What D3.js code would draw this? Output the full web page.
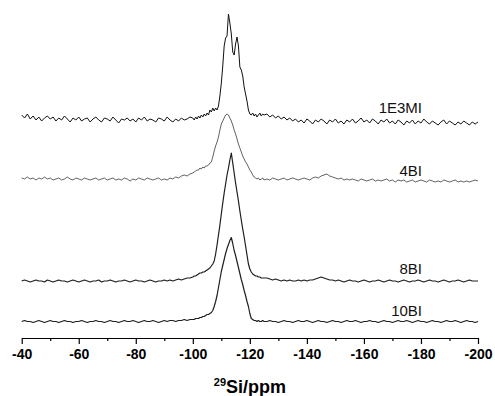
<!DOCTYPE html>
<html>
<head>
<meta charset="utf-8">
<script src="https://cdn.jsdelivr.net/npm/d3@7"></script>
<style>
  html, body { margin: 0; padding: 0; background: #fff; }
  svg { display: block; }
</style>
</head>
<body>
<svg id="chart" width="495" height="396"></svg>
<script>
// chemical-shift grid (ppm): 1 ppm steps, 0.5 ppm around the Q4 resonance
const ppm = [].concat(
  d3.range(-40, -100.01, -1),
  d3.range(-100.5, -125.01, -0.5),
  d3.range(-126, -200.01, -1)
);

const seriesNames = ["1E3MI", "4BI", "8BI", "10BI"];
const seriesOffsets = [212, 151, 49, 8.5];

const s1E3MI = [
  3, 0, 4, -1, 2, -2, 1, -3, 0, 2,
  -1, 1, -3, 0, -2, 2, -1, -4, 0, -2,
  1, -3, -1, 0, -4, -1, 1, -2, -4, 0,
  -1, -3, 1, -2, -5, -1, -2, 0, -3, -1,
  -4, 0, -2, 1, -3, -1, -2, -4, 0, -1,
  -3, 1, -2, -4, -1, -3, 0, -2, -1, 1,
  0,
  -2, 1, -1, 2, 0, 3, 1, 4, 2, 5,
  3, 8, 6, 10, 7, 10, 8, 12, 22, 35,
  52, 72, 80, 82, 104, 95, 84, 66, 63, 74,
  81, 72, 51, 48, 42, 31, 24, 17, 8, 4,
  3, 5, 2, 4, 1, 3, 5, 2, 4, 3,
  4, 1, 3, 0, 2, -1, 1, -2, 0, -3,
  -1, -4, -2, -5, -1, -3, -6, -2, -4, -1,
  -3, -6, -2, -4, -1, -5, -3, -6, -2, -4,
  -1, -5, -3, 0, -4, -2, -5, -1, -3, -6,
  -2, -4, -1, -5, -3, -6, -2, -4, -7, -3,
  -5, -2, -6, -3, -5, -1, -4, -6, -3, -5,
  -7, -4, -2, -6, -3, -5, -7, -4, -6, -3,
  -5, -7, -4, -6, -4
];

const s4BI = [
  1, 0, 2, 0, 1, -1, 1, 0, 2, 0,
  1, -1, 0, 1, -1, 0, 2, 0, -1, 1,
  0, -1, 1, 0, -1, 0, 1, -1, 0, 1,
  -1, 0, 1, -1, 0, -1, 1, 0, -2, 0,
  -1, 1, 0, -1, 1, 0, -1, 0, 1, -1,
  0, -1, 1, 0, 2, 1, 3, 4, 3, 5,
  6,
  7, 8, 9, 9, 11, 10, 12, 11, 13, 13,
  14, 16, 17, 22, 28, 33, 37, 42, 49, 55,
  58, 61, 64, 65, 64, 61, 58, 54, 49, 45,
  40, 35, 31, 27, 23, 20, 17, 15, 12, 9,
  7, 4, 2, 1, 0, 1, -1, 0, 1, -1,
  0, -1, 1, 0, -1, 0, 1, -1, 0, 1,
  0, -1, 0, 1, 0, -1, 1, 2, 1, 3,
  4, 5, 3, 2, 1, 0, 1, -1, 0, -1,
  0, -1, -2, 0, -1, -2, -1, 0, -2, -1,
  -2, -1, 0, -2, -1, -3, -1, -2, -1, -3,
  -2, -1, -3, -2, -1, -2, -3, -1, -2, -3,
  -2, -3, -1, -2, -3, -2, -1, -3, -2, -3,
  -2, -3, -2, -1, -2
];

const s8BI = [
  0, 1, 0, -1, 0, 1, 0, 0, -1, 1,
  0, -1, 0, 1, 0, 0, -1, 0, 1, 0,
  -1, 0, 1, 0, -1, 0, 0, 1, -1, 0,
  0, 1, 0, -1, 0, 0, 1, 0, -1, 0,
  1, 0, 0, -1, 0, 1, 0, -1, 0, 0,
  1, 0, 1, 0, 1, 2, 1, 2, 3, 3,
  4,
  5, 5, 6, 7, 8, 8, 9, 9, 10, 11,
  12, 13, 15, 17, 20, 27, 36, 46, 56, 67,
  78, 88, 97, 106, 113, 121, 128, 118, 108, 98,
  89, 80, 70, 61, 52, 44, 35, 26, 17, 12,
  9, 7, 6, 5, 5, 4, 4, 3, 3, 3,
  3, 2, 1, 2, 1, 0, 1, 0, 1, 0,
  0, 1, 0, 1, 0, 1, 1, 2, 3, 4,
  3, 2, 1, 1, 0, 1, 0, -1, 0, 1,
  0, 0, -1, 0, 1, 0, -1, 0, 0, 1,
  0, -1, 0, 1, 0, 0, -1, 0, 1, 0,
  -1, 0, 0, 1, 0, -1, 0, 1, 0, 0,
  -1, 0, 1, 0, -1, 0, 0, 1, 0, -1,
  0, 1, 0, 0, 0
];

const s10BI = [
  0, 1, 0, 0, -1, 0, 1, 0, -1, 0,
  1, 0, 0, -1, 0, 1, 0, 0, -1, 0,
  0, 1, 0, -1, 0, 0, 1, 0, 0, -1,
  0, 1, 0, 0, -1, 0, 1, 0, 0, 1,
  0, -1, 0, 1, 0, 0, 1, 0, -1, 0,
  1, 0, 1, 1, 0, 1, 1, 2, 1, 2,
  2,
  2, 3, 3, 3, 4, 4, 5, 5, 6, 7,
  7, 8, 9, 11, 15, 20, 26, 34, 42, 50,
  56, 62, 68, 73, 77, 81, 84, 78, 71, 66,
  60, 54, 48, 42, 37, 31, 26, 20, 15, 8,
  3, 2, 1, 1, 0, 1, 0, 0, 1, 0,
  0, 1, 0, 0, -1, 0, 1, 0, 0, -1,
  0, 1, 0, 0, 1, 0, -1, 0, 1, 0,
  0, -1, 0, 1, 0, 0, -1, 0, 1, 0,
  0, 1, 0, -1, 0, 0, 1, 0, 0, -1,
  0, 1, 0, 0, -1, 0, 1, 0, 0, 1,
  0, -1, 0, 1, 0, 0, -1, 0, 1, 0,
  0, -1, 0, 1, 0, 0, 1, 0, -1, 0,
  1, 0, 0, -1, 0
];

const seriesValues = [s1E3MI, s4BI, s8BI, s10BI];
const majorTicks = [-40, -60, -80, -100, -120, -140, -160, -180, -200];
const minorTicks = [-50, -70, -90, -110, -130, -150, -170, -190];
const xTitleSup = "29";
const xTitleMain = "Si/ppm";

const svg = d3.select("#chart");
const x = d3.scaleLinear().domain([-40, -200]).range([21.7, 478]);
const y = d3.scaleLinear().domain([0, 330]).range([330, 0]);

const styles = [
  { stroke: "#111", width: 1.0 },
  { stroke: "#3a3a3a", width: 0.8 },
  { stroke: "#1f1f1f", width: 1.2 },
  { stroke: "#1f1f1f", width: 1.2 }
];
const labelPos = [
  { x: 422, y: 112.5 },
  { x: 422, y: 175.5 },
  { x: 422, y: 273.5 },
  { x: 422, y: 316 }
];

seriesNames.forEach((name, i) => {
  const vals = seriesValues[i];
  const n = Math.min(vals.length, ppm.length);
  const pts = d3.range(n).map(k => [ppm[k], vals[k] + seriesOffsets[i]]);
  const line = d3.line().x(d => x(d[0])).y(d => y(d[1]));
  svg.append("path")
    .datum(pts)
    .attr("d", line)
    .attr("fill", "none")
    .attr("stroke", styles[i].stroke)
    .attr("stroke-width", styles[i].width)
    .attr("stroke-linejoin", "round");
  svg.append("text")
    .attr("x", labelPos[i].x)
    .attr("y", labelPos[i].y)
    .attr("text-anchor", "end")
    .attr("font-family", "Arial, 'Liberation Sans', sans-serif")
    .attr("font-size", 15)
    .attr("fill", "#111")
    .text(name);
});

// axis
const axisY = 338;
const gMinor = svg.append("g")
  .attr("transform", `translate(0,${axisY})`)
  .call(d3.axisBottom(x).tickValues(minorTicks).tickSize(3).tickSizeOuter(0).tickFormat(""));
gMinor.select(".domain").remove();
gMinor.selectAll("line").attr("stroke", "#000").attr("stroke-width", 1.2);

const gMajor = svg.append("g")
  .attr("transform", `translate(0,${axisY})`)
  .call(d3.axisBottom(x).tickValues(majorTicks).tickSize(6).tickSizeOuter(0).tickPadding(5)
    .tickFormat(d3.format("d")));
gMajor.select(".domain").attr("stroke", "#000").attr("stroke-width", 1.2);
gMajor.selectAll("line").attr("stroke", "#000").attr("stroke-width", 1.2);
gMajor.selectAll("text")
  .attr("font-family", "Arial, 'Liberation Sans', sans-serif")
  .attr("font-weight", "bold")
  .attr("font-size", 14)
  .attr("fill", "#000")
  .text(d => String(d).replace("\u2212", "-"));

const title = svg.append("text")
  .attr("x", 250)
  .attr("y", 393)
  .attr("text-anchor", "middle")
  .attr("font-family", "Arial, 'Liberation Sans', sans-serif")
  .attr("font-weight", "bold")
  .attr("font-size", 18)
  .attr("fill", "#000");
title.append("tspan").attr("font-size", 11).attr("dy", -7).text(xTitleSup);
title.append("tspan").attr("dy", 7).text(xTitleMain);
</script>
</body>
</html>
